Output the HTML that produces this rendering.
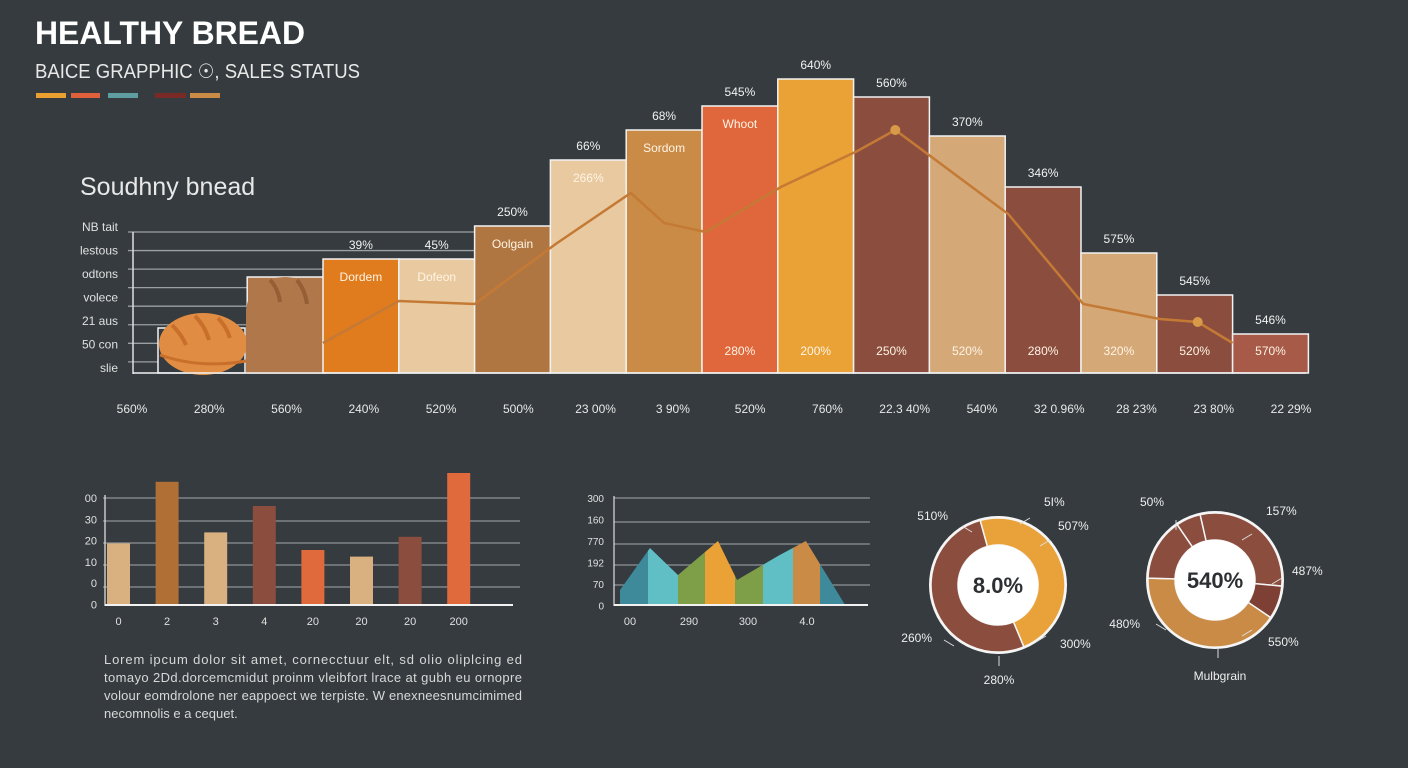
<!DOCTYPE html>
<html><head><meta charset="utf-8"><style>
html,body{margin:0;padding:0;background:#353b3e;}
svg{display:block;font-family:"Liberation Sans",sans-serif;}
</style></head><body>
<svg id="root" width="1408" height="768" viewBox="0 0 1408 768">
<rect width="1408" height="768" fill="#353b3e"/>
<text x="35" y="44" fill="#ffffff" font-size="32" font-weight="bold" textLength="270" lengthAdjust="spacingAndGlyphs">HEALTHY BREAD</text>
<text x="35" y="78" fill="#e8e8e8" font-size="20" textLength="325" lengthAdjust="spacingAndGlyphs">BAICE GRAPPHIC ☉, SALES STATUS</text>
<g>
<rect x="36" y="93" width="30" height="5" fill="#e9a030"/><rect x="71" y="93" width="29" height="5" fill="#e0603c"/><rect x="108" y="93" width="30" height="5" fill="#5e9ea0"/><rect x="155" y="93" width="31" height="5" fill="#7a2a26"/><rect x="190" y="93" width="30" height="5" fill="#c98b45"/>
</g>
<text x="80" y="195" fill="#e8e8e8" font-size="25">Soudhny bnead</text>
<g id="main"></g>
<g id="small"></g>
<g id="area"></g>
<g id="donuts"></g>
<text fill="#d8d8d8" font-size="13">
<tspan x="104" y="664" textLength="418" lengthAdjust="spacing">Lorem ipcum dolor sit amet, cornecctuur elt, sd olio oliplcing ed</tspan>
<tspan x="104" y="682" textLength="418" lengthAdjust="spacing">tomayo 2Dd.dorcemcmidut proinm vleibfort lrace at gubh eu ornopre</tspan>
<tspan x="104" y="700" textLength="418" lengthAdjust="spacing">volour eomdrolone ner eappoect we terpiste. W enexneesnumcimimed</tspan>
<tspan x="104" y="718">necomnolis e a cequet.</tspan>
</text>
</svg>
<script>
const NS='http://www.w3.org/2000/svg';
function mk(tag,attrs,parent,txt){const e=document.createElementNS(NS,tag);for(const k in attrs)e.setAttribute(k,attrs[k]);if(txt!==undefined)e.textContent=txt;parent.appendChild(e);return e;}

// ===== Main chart data =====
const mainCats=['Loaf','Rye','Dordem','Dofeon','Oolgain','Sour','Sordom','Whoot','Golden','Brown','Light','Dark','Oat','Spelt','Bran'];
const mainVals=[15,32,38,38,49,71,81,89,98,92,79,62,40,26,13];
const mainTopLabels=['','','39%','45%','250%','66%','68%','545%','640%','560%','370%','346%','575%','545%','546%'];
const mainInnerNames=['','','Dordem','Dofeon','Oolgain','266%','Sordom','Whoot','','','','','','',''];
const mainBottomLabels=['','','','','','','','280%','200%','250%','520%','280%','320%','520%','570%'];
const mainXTicks=['560%','280%','560%','240%','520%','500%','23 00%','3 90%','520%','760%','22.3 40%','540%','32 0.96%','28 23%','23 80%','22 29%'];
const yTickNames=['NB tait','lestous','odtons','volece','21 aus','50 con','slie'];
const linePos=[2,3,4,5.07,6.06,6.5,7.05,8.04,9.05,9.55,11.04,12.03,13.04,13.54,14];
const lineVals=[10,24,23,43,60,50,47,62,74,81,53,23,18,17,10];
const dotIdx=[9,13];
const mainColors=['none','#b0784a','#e07b1e','#e8c9a0','#b07642','#e8c9a0','#c98b45','#e0663c','#eaa236','#8b4d3e','#d4a877','#8b4d3e','#d4a877','#8b4d3e','#a85a48'];

const M={x2:323,bw:75.8,base:373,k:3.0};
const mx=i=>i===0?158:M.x2+(i-2)*M.bw;
const mw=i=>i===0?87:(i===1?78:M.bw);
const my=v=>M.base-v*M.k;
const main=document.getElementById('main');
for(let i=0;i<8;i++){const y=232+i*(141/7.6);
  const g=mk('line',{x1:128,x2:480,y1:y,y2:y,stroke:'#9aa0a3','stroke-width':1.3},main);
  
  }
yTickNames.forEach((t,i)=>{const e=mk('text',{x:118,y:231+i*23.5,fill:'#e0e0e0','font-size':12,'text-anchor':'end'},main,t);
  
  });
const ax=mk('line',{x1:133,x2:133,y1:232,y2:374,stroke:'#e0e0e0','stroke-width':1.5},main);


mainVals.forEach((v,i)=>{
  const r=mk('rect',{x:mx(i),y:my(v),width:mw(i),height:M.base-my(v),fill:mainColors[i]==='none'?'#353b3e':mainColors[i],stroke:'#f2f2f2','stroke-width':1.5},main);
  
  
});
const b1=mk('ellipse',{cx:203,cy:344,rx:44,ry:31,fill:'#e08c42'},main);


mk('path',{d:'M172 325 q10 10 14 20 M195 316 q10 10 14 24 M218 318 q8 8 12 20',stroke:'#c96f2c','stroke-width':4,fill:'none'},main);
mk('path',{d:'M160 355 q40 14 86 6',stroke:'#c96f2c','stroke-width':3,fill:'none'},main);
const b2=mk('path',{d:'M246 373 L246 310 Q250 278 285 277 Q320 278 322 310 L322 373 Z',fill:'#b0784a'},main);


mk('path',{d:'M270 280 q8 8 10 22 M297 280 q8 10 10 24',stroke:'#955e35','stroke-width':4,fill:'none'},main);
mainVals.forEach((v,i)=>{
  const cx=mx(i)+mw(i)/2;
  if(mainTopLabels[i]){const t=mk('text',{x:cx,y:my(v)-10,fill:'#f2f2f2','font-size':12,'text-anchor':'middle'},main,mainTopLabels[i]);
    
    }
  if(mainInnerNames[i]){const t=mk('text',{x:cx,y:my(v)+22,fill:'#fff4e4','font-size':12,'text-anchor':'middle'},main,mainInnerNames[i]);
    
    }
  if(mainBottomLabels[i]){const t=mk('text',{x:cx,y:355,fill:'#fff4e4','font-size':12,'text-anchor':'middle'},main,mainBottomLabels[i]);
    
    }
});
const lx=p=>M.x2+(p-2)*M.bw;
const ly=v=>M.base-v*M.k;
let d='';linePos.forEach((p,i)=>{d+=(i?'L':'M')+lx(p)+' '+ly(lineVals[i])+' ';});
const ln=mk('path',{d:d,fill:'none',stroke:'#c47a35','stroke-width':2.5},main);


dotIdx.forEach(i=>{const c=mk('circle',{cx:lx(linePos[i]),cy:ly(lineVals[i]),r:5,fill:'#d89a48'},main);
  
  });
const xb=mk('line',{x1:133,x2:1306,y1:373,y2:373,stroke:'#f2f2f2','stroke-width':1.5},main);


mainXTicks.forEach((t,i)=>{const e=mk('text',{x:132+i*(1291-132)/15,y:413,fill:'#e8e8e8','font-size':12,'text-anchor':'middle'},main,t);
  
  });

// ===== Small bar chart =====
const smallCats=['0','2','3','4','20','20','20','200'];
const smallVals=[28,56,33,45,25,22,31,60];
const smallYTicks=['00','30','20','10','0','0'];
const smallColors=['#d9b080','#b07035','#d9b080','#8b4d3e','#e06a3c','#d9b080','#8b4d3e','#e06a3c'];
const S={base:605,k:2.2,x0:107,step:48.6,bw:23};
const sm=document.getElementById('small');
[498,521,543,565,587].forEach(y=>{const g=mk('line',{x1:103,x2:520,y1:y,y2:y,stroke:'#8e9497','stroke-width':1.2},sm);
  
  });
smallYTicks.forEach((t,i)=>{const e=mk('text',{x:97,y:502+i*21.3,fill:'#e0e0e0','font-size':11,'text-anchor':'end'},sm,t);
  
  });
mk('line',{x1:105,x2:105,y1:495,y2:606,stroke:'#ddd','stroke-width':1.3},sm);
smallVals.forEach((v,i)=>{const r=mk('rect',{x:S.x0+i*S.step,y:S.base-v*S.k,width:S.bw,height:v*S.k,fill:smallColors[i]},sm);
  
  
  const t=mk('text',{x:S.x0+i*S.step+S.bw/2,y:625,fill:'#e0e0e0','font-size':11,'text-anchor':'middle'},sm,smallCats[i]);
  
  });
const sa=mk('line',{x1:105,x2:513,y1:605,y2:605,stroke:'#f2f2f2','stroke-width':2},sm);



// ===== Area chart =====
const areaYTicks=['300','160','770','192','70','0'];
const areaXTicks=['00','290','300','4.0'];
const areaPosX=[0,1.07,2.07,3.5,4.18,5.64,6.64,8.04];
const areaVals=[15,57,30,64,25,49,64,0];
const bandColors=['#3f8a9a','#5fbfc4','#7f9e48','#eaa236','#7f9e48','#5fbfc4','#c98b45','#3f8a9a'];
const A={x0:620,step:28,base:605,k:1.0};
const ar=document.getElementById('area');
[498,522,544,565,585].forEach(y=>{const g=mk('line',{x1:614,x2:870,y1:y,y2:y,stroke:'#8e9497','stroke-width':1.2},ar);
  
  });
areaYTicks.forEach((t,i)=>{const e=mk('text',{x:604,y:502+i*21.5,fill:'#e0e0e0','font-size':10,'text-anchor':'end'},ar,t);
  
  });
mk('line',{x1:614,x2:614,y1:496,y2:606,stroke:'#ddd','stroke-width':1.2},ar);
const ptsX=areaPosX.map(p=>A.x0+p*A.step),ptsY=areaVals.map(v=>A.base-v*A.k);
function yAt(x){for(let i=0;i<ptsX.length-1;i++){if(x>=ptsX[i]&&x<=ptsX[i+1]){const t=(x-ptsX[i])/(ptsX[i+1]-ptsX[i]);return ptsY[i]+t*(ptsY[i+1]-ptsY[i]);}}return A.base;}
const bands=[620,648,678,705,735,763,793,820,845];
for(let b=0;b<8;b++){const x1=bands[b],x2=bands[b+1];let pts=[x1+','+A.base];
  const xs=[x1,...ptsX.filter(x=>x>x1&&x<x2),x2];xs.forEach(x=>pts.push(x+','+yAt(x)));pts.push(x2+','+A.base);
  const p=mk('polygon',{points:pts.join(' '),fill:bandColors[b]},ar);
  
  }
const aa=mk('line',{x1:614,x2:868,y1:605,y2:605,stroke:'#f2f2f2','stroke-width':2},ar);


areaXTicks.forEach((t,i)=>{const e=mk('text',{x:630+i*59,y:625,fill:'#e0e0e0','font-size':11,'text-anchor':'middle'},ar,t);
  
  });

// ===== Donuts =====
const donut1Vals=[48,52];
const donut1Colors=['#e9a23a','#8b4d3e'];
const donut2Vals=[6,30,8,41,15];
const donut2Colors=['#8b4d3e','#8b4d3e','#7e4034','#c98b45','#8b4d3e'];
const dn=document.getElementById('donuts');
function arc(cx,cy,r,ri,a0,a1){const p=(a,rr)=>[cx+rr*Math.sin(a),cy-rr*Math.cos(a)];const L=(a1-a0)>Math.PI?1:0;
  const [x1,y1]=p(a0,r),[x2,y2]=p(a1,r),[x3,y3]=p(a1,ri),[x4,y4]=p(a0,ri);
  return `M${x1} ${y1} A${r} ${r} 0 ${L} 1 ${x2} ${y2} L${x3} ${y3} A${ri} ${ri} 0 ${L} 0 ${x4} ${y4} Z`;}
function donut(cx,cy,vals,cols,start,center){
  const tot=vals.reduce((a,b)=>a+b,0);let a=start;
  vals.forEach((v,i)=>{const a1=a+v/tot*2*Math.PI;const p=mk('path',{d:arc(cx,cy,67,40,a,a1),fill:cols[i],stroke:'#f5f5f5','stroke-width':1.5},dn);
    
    a=a1;});
  mk('circle',{cx:cx,cy:cy,r:68,fill:'none',stroke:'#f5f5f5','stroke-width':2},dn);
  mk('circle',{cx:cx,cy:cy,r:40,fill:'#ffffff'},dn);
  const t=mk('text',{x:cx,y:cy+8,fill:'#2d3033','font-size':22,'font-weight':'bold','text-anchor':'middle'},dn,center);
  
  }
donut(998,585,donut1Vals,donut1Colors,-0.27,'8.0%');
donut(1215,580,donut2Vals,donut2Colors,-0.6,'540%');
const callouts=[[948,520,'510%',962,526,'end'],[1044,506,'5I%',1030,518,'start'],[1058,530,'507%',1050,540,'start'],[932,642,'260%',944,640,'end'],[1060,648,'300%',1046,636,'start'],[999,684,'280%',999,656,'middle'],
[1152,506,'50%',1176,520,'middle'],[1266,515,'157%',1252,534,'start'],[1292,575,'487%',1282,578,'start'],[1140,628,'480%',1156,624,'end'],[1268,646,'550%',1252,630,'start'],[1220,680,'Mulbgrain',1218,648,'middle']];
callouts.forEach(c=>{const t=mk('text',{x:c[0],y:c[1],fill:'#eeeeee','font-size':12,'text-anchor':c[5]},dn,c[2]);
  
  
  mk('line',{x1:c[3],y1:c[4],x2:c[3]+(c[5]==='end'?10:c[5]==='start'?-10:0),y2:c[4]+(c[5]==='middle'?10:6),stroke:'#ddd','stroke-width':1},dn);});
</script>
</body></html>
